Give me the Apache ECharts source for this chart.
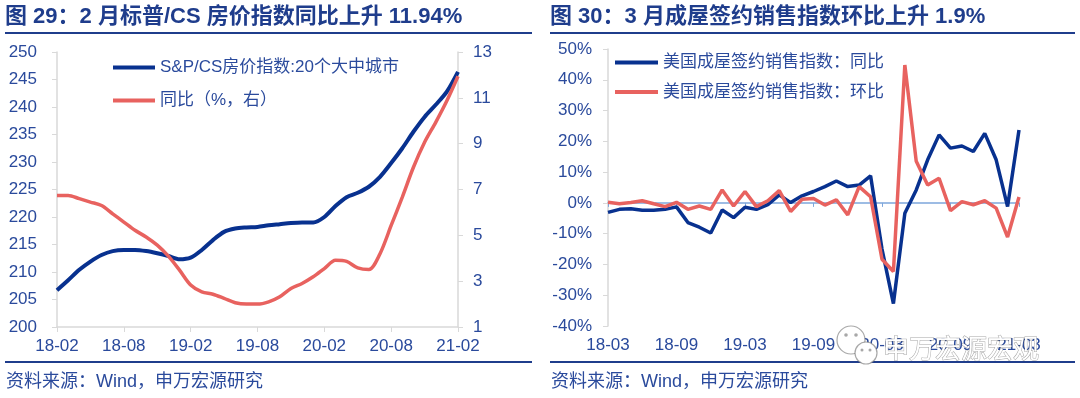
<!DOCTYPE html>
<html>
<head>
<meta charset="utf-8">
<script src="https://cdn.jsdelivr.net/npm/echarts@6/dist/echarts.min.js"></script>
<style>
  html, body { margin: 0; padding: 0; background: #fff; }
  #main { width: 1080px; height: 398px; }
</style>
</head>
<body>
<div id="main"></div>
<script>
// 左图：标普/CS 房价指数
var leftMonths = ['18-02','18-03','18-04','18-05','18-06','18-07','18-08','18-09','18-10','18-11','18-12',
	'19-01','19-02','19-03','19-04','19-05','19-06','19-07','19-08','19-09','19-10','19-11','19-12',
	'20-01','20-02','20-03','20-04','20-05','20-06','20-07','20-08','20-09','20-10','20-11','20-12',
	'21-01','21-02'];
var csIndex = [206.7, 208.5, 210.4, 211.9, 213.1, 213.8, 214.0, 214.0, 213.8, 213.4, 212.9,
	212.3, 212.6, 214.0, 215.8, 217.3, 217.9, 218.1, 218.2, 218.5, 218.7, 218.9, 219.0,
	219.0, 220.0, 222.0, 223.6, 224.4, 225.5, 227.3, 229.8, 232.5, 235.5, 238.2, 240.4,
	242.8, 246.4];
var csYoy = [6.74, 6.74, 6.60, 6.45, 6.30, 5.94, 5.58, 5.22, 4.93, 4.57, 4.09,
	3.48, 2.83, 2.53, 2.43, 2.25, 2.06, 2.00, 2.00, 2.10, 2.32, 2.68, 2.90,
	3.19, 3.55, 3.91, 3.86, 3.58, 3.51, 4.20, 5.43, 6.67, 7.97, 9.06, 9.93,
	10.87, 11.94];

// 右图：成屋签约销售指数
var rightMonths = ['18-03','18-04','18-05','18-06','18-07','18-08','18-09','18-10','18-11','18-12',
	'19-01','19-02','19-03','19-04','19-05','19-06','19-07','19-08','19-09','19-10','19-11','19-12',
	'20-01','20-02','20-03','20-04','20-05','20-06','20-07','20-08','20-09','20-10','20-11','20-12',
	'21-01','21-02','21-03'];
var pendingYoy = [-3.1, -2.1, -1.9, -2.4, -2.4, -2.1, -1.3, -6.4, -7.9, -9.8,
	-2.3, -4.8, -1.4, -2.1, -0.6, 2.6, 0.1, 2.3, 3.7, 5.3, 7.1, 5.3,
	5.8, 8.8, -15.0, -32.7, -3.4, 4.2, 14.0, 22.1, 17.8, 18.5, 16.7, 22.6,
	14.0, -1.2, 23.7];
var pendingMom = [0.2, -0.3, 0.1, 0.7, -0.3, -1.2, 0.2, -2.1, -1.0, -2.1,
	4.2, -1.0, 3.7, -1.2, 0.7, 4.0, -2.8, 1.2, 1.4, -0.7, 1.0, -3.9,
	5.3, 2.0, -18.3, -22.3, 44.8, 13.5, 5.8, 8.0, -2.5, 0.4, -0.6, 0.7,
	-1.7, -11.1, 1.9];

var FONT = "'Liberation Sans', 'Noto Sans CJK SC', sans-serif";
var TITLE_C = '#1f3d8c';
var LBL_C = '#2a4a9c';
var AXIS_C = '#d9d9d9';
var BLUE = '#08318f';
var RED = '#e8625f';

var myChart = echarts.init(document.getElementById('main'));

function lbl(extra) {
	var o = { color: LBL_C, fontSize: 17, fontFamily: FONT };
	for (var k in extra) o[k] = extra[k];
	return o;
}

var option = {
	animation: false,
	backgroundColor: '#fff',
	grid: [
		{ left: 57, top: 52, width: 401, height: 275 },
		{ left: 608, top: 49, width: 411, height: 277 }
	],
	legend: [
		{
			data: ['S&P/CS房价指数:20个大中城市', '同比（%，右）'],
			orient: 'vertical', left: 108, top: 54, icon: 'rect',
			itemWidth: 42, itemHeight: 4, itemGap: 16,
			textStyle: { color: LBL_C, fontSize: 17, lineHeight: 17, fontFamily: FONT }
		},
		{
			data: ['美国成屋签约销售指数：同比', '美国成屋签约销售指数：环比'],
			orient: 'vertical', left: 610, top: 49, icon: 'rect',
			itemWidth: 43, itemHeight: 4, itemGap: 12.6,
			textStyle: { color: LBL_C, fontSize: 17, lineHeight: 17, fontFamily: FONT }
		}
	],
	xAxis: [
		{
			gridIndex: 0, type: 'category', data: leftMonths, boundaryGap: false,
			axisLine: { lineStyle: { color: AXIS_C, width: 1.5 } },
			axisTick: { interval: 5, length: 5, lineStyle: { color: AXIS_C } },
			axisLabel: lbl({ interval: 5, margin: 11 })
		},
		{
			gridIndex: 1, type: 'category', data: rightMonths, boundaryGap: false, position: 'bottom',
			axisLine: { show: false, onZero: false },
			axisTick: { show: false },
			axisLabel: lbl({ interval: 5, margin: 11 })
		},
		{
			gridIndex: 1, type: 'category', data: rightMonths, boundaryGap: false, position: 'bottom',
			axisLine: { onZero: true, lineStyle: { color: '#7ea6dc', width: 1.5 } },
			axisTick: { interval: 5, length: 4, lineStyle: { color: '#7ea6dc' } },
			axisLabel: { show: false }
		}
	],
	yAxis: [
		{
			gridIndex: 0, type: 'value', min: 200, max: 250, interval: 5,
			axisLine: { show: true, lineStyle: { color: AXIS_C, width: 1.5 } },
			axisTick: { show: true, length: 5, lineStyle: { color: AXIS_C } },
			splitLine: { show: false },
			axisLabel: lbl({ margin: 20 })
		},
		{
			gridIndex: 0, type: 'value', position: 'right', min: 1, max: 13, interval: 2,
			axisLine: { show: true, lineStyle: { color: AXIS_C, width: 1.5 } },
			axisTick: { show: true, length: 5, lineStyle: { color: AXIS_C } },
			splitLine: { show: false },
			axisLabel: lbl({ margin: 15 })
		},
		{
			gridIndex: 1, type: 'value', min: -40, max: 50, interval: 10,
			axisLine: { show: true, lineStyle: { color: AXIS_C, width: 1.5 } },
			axisTick: { show: true, length: 5, lineStyle: { color: AXIS_C } },
			splitLine: { show: false },
			axisLabel: lbl({ margin: 16, formatter: '{value}%' })
		}
	],
	series: [
		{
			name: 'S&P/CS房价指数:20个大中城市', type: 'line', xAxisIndex: 0, yAxisIndex: 0,
			data: csIndex, smooth: 0.3, symbol: 'none',
			itemStyle: { color: BLUE }, lineStyle: { color: BLUE, width: 4 }
		},
		{
			name: '同比（%，右）', type: 'line', xAxisIndex: 0, yAxisIndex: 1,
			data: csYoy, smooth: 0.3, symbol: 'none',
			itemStyle: { color: RED }, lineStyle: { color: RED, width: 3.5 }
		},
		{
			name: '美国成屋签约销售指数：同比', type: 'line', xAxisIndex: 1, yAxisIndex: 2,
			data: pendingYoy, symbol: 'none',
			itemStyle: { color: BLUE }, lineStyle: { color: BLUE, width: 3.5 }
		},
		{
			name: '美国成屋签约销售指数：环比', type: 'line', xAxisIndex: 1, yAxisIndex: 2,
			data: pendingMom, symbol: 'none',
			itemStyle: { color: RED }, lineStyle: { color: RED, width: 3.5 }
		}
	],
	graphic: [
		// 标题
		{ type: 'text', x: 5, y: 17, z: 50, style: { text: '图 29：2 月标普/CS 房价指数同比上升 11.94%', fill: TITLE_C, fontSize: 22, fontWeight: 'bold', fontFamily: FONT, verticalAlign: 'middle' } },
		{ type: 'text', x: 550, y: 17, z: 50, style: { text: '图 30：3 月成屋签约销售指数环比上升 1.9%', fill: TITLE_C, fontSize: 22, fontWeight: 'bold', fontFamily: FONT, verticalAlign: 'middle' } },
		{ type: 'rect', z: 50, shape: { x: 5, y: 32, width: 527, height: 2 }, style: { fill: TITLE_C } },
		{ type: 'rect', z: 50, shape: { x: 550, y: 32, width: 525, height: 2 }, style: { fill: TITLE_C } },
		// 资料来源
		{ type: 'rect', z: 50, shape: { x: 5, y: 361, width: 527, height: 2 }, style: { fill: TITLE_C } },
		{ type: 'rect', z: 50, shape: { x: 550, y: 361, width: 525, height: 2 }, style: { fill: TITLE_C } },
		{ type: 'text', x: 6, y: 382, z: 50, style: { text: '资料来源：Wind，申万宏源研究', fill: LBL_C, fontSize: 18, fontFamily: FONT, verticalAlign: 'middle' } },
		{ type: 'text', x: 551, y: 382, z: 50, style: { text: '资料来源：Wind，申万宏源研究', fill: LBL_C, fontSize: 18, fontFamily: FONT, verticalAlign: 'middle' } },
		// 水印
		{ type: 'circle', z: 100, shape: { cx: 851, cy: 340, r: 14 }, style: { fill: '#fff', stroke: 'rgba(110,110,110,0.6)', lineWidth: 1.2 } },
		{ type: 'circle', z: 101, shape: { cx: 866, cy: 353, r: 11 }, style: { fill: '#fff', stroke: 'rgba(110,110,110,0.6)', lineWidth: 1.2 } },
		{ type: 'circle', z: 102, shape: { cx: 846, cy: 335, r: 1.8 }, style: { fill: 'rgba(110,110,110,0.6)' } },
		{ type: 'circle', z: 102, shape: { cx: 856, cy: 335, r: 1.8 }, style: { fill: 'rgba(110,110,110,0.6)' } },
		{ type: 'circle', z: 102, shape: { cx: 862, cy: 350, r: 1.5 }, style: { fill: 'rgba(110,110,110,0.6)' } },
		{ type: 'circle', z: 102, shape: { cx: 870, cy: 350, r: 1.5 }, style: { fill: 'rgba(110,110,110,0.6)' } },
		{ type: 'text', x: 883, y: 348, z: 100, style: { text: '申万宏源宏观', fill: '#fff', stroke: 'rgba(90,90,90,0.55)', lineWidth: 1, fontSize: 26, fontFamily: 'Noto Sans CJK SC', verticalAlign: 'middle' } }
	]
};

myChart.setOption(option);
</script>
</body>
</html>
